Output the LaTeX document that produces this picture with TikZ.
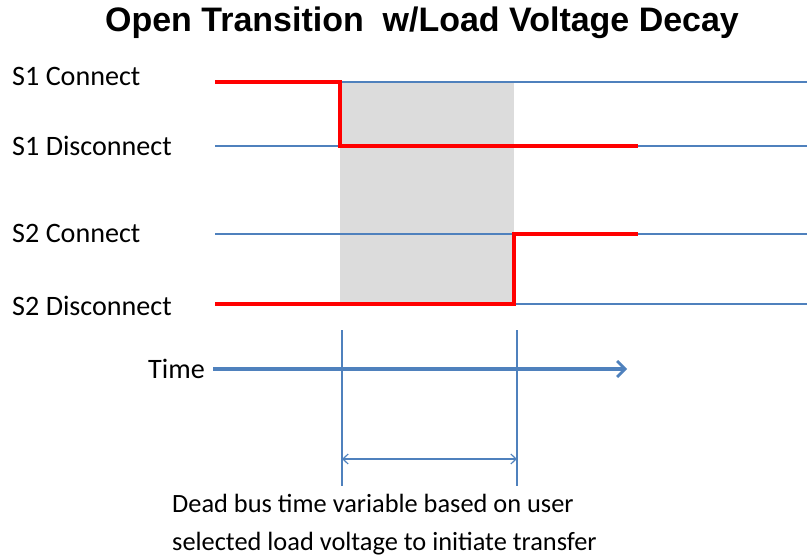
\documentclass[tikz,border=0pt]{standalone}
\usepackage{fontspec}
\setmainfont{Carlito}
\newfontfamily\titlefont{Liberation Sans}
\usetikzlibrary{arrows.meta, positioning}
\definecolor{sigblue}{HTML}{4F81BD}
\definecolor{sigred}{HTML}{FF0000}
\definecolor{deadgray}{HTML}{DCDCDC}

\begin{document}
\begin{tikzpicture}[
      x=0.03cm, y=-0.03cm,
      lbl/.style={anchor=west, inner sep=0pt, font=\fontsize{24}{26}\selectfont},
      level/.style={sigblue, line width=1.2pt},
      state/.style={sigred, line width=3.6pt, line join=miter},
      guide/.style={sigblue, line width=1pt},
      timearr/.style={-{Straight Barb[length=2.4mm, width=4.8mm, line width=2.4pt]}, sigblue, line width=3.6pt},
      dimarr/.style={{Straight Barb[length=1.6mm, width=3mm]}-{Straight Barb[length=1.6mm, width=3mm]}, sigblue, line width=1pt}
    ]
      \useasboundingbox (0,0) rectangle (807,557);
      % title
      \node[font=\titlefont\bfseries\fontsize{29}{32}\selectfont, inner sep=0pt] (title) at (422,23) {Open Transition\ \ w/Load Voltage Decay};
      % row labels
      \node[lbl] (s1c) at (12,76) {S1 Connect};
      \node[lbl] (s1d) at (12,146) {S1 Disconnect};
      \node[lbl] (s2c) at (12,233) {S2 Connect};
      \node[lbl] (s2d) at (12,306) {S2 Disconnect};
      \node[lbl, anchor=east] (time) at (205,369) {Time};
      % key points
      \coordinate (a1) at (215,82);  \coordinate (b1) at (340,82);  \coordinate (e1) at (807,82);
      \coordinate (a2) at (215,146); \coordinate (b2) at (340,146); \coordinate (c2) at (638,146); \coordinate (e2) at (807,146);
      \coordinate (a3) at (215,234); \coordinate (b3) at (514,234); \coordinate (c3) at (638,234); \coordinate (e3) at (807,234);
      \coordinate (a4) at (215,304); \coordinate (b4) at (514,304); \coordinate (e4) at (807,304);
      % dead bus window
      \fill[deadgray] (b1) rectangle (b4);
      % level lines
      \draw[level] (a1) -- (e1);
      \draw[level] (a2) -- (e2);
      \draw[level] (a3) -- (e3);
      \draw[level] (a4) -- (e4);
      % switch states
      \draw[state] (a1) -- (b1) -- (b2) -- (c2);
      \draw[state] (a4) -- (b4) -- (b3) -- (c3);
      % time axis
      \coordinate (t0) at (213,369); \coordinate (t1) at (627,369);
      \draw[timearr] (t0) -- (t1);
      % dead bus span
      \coordinate (g1) at (342,330); \coordinate (g2) at (342,486);
      \coordinate (h1) at (517,330); \coordinate (h2) at (517,486);
      \draw[guide] (g1) -- (g2);
      \draw[guide] (h1) -- (h2);
      \coordinate (d1) at (342,459); \coordinate (d2) at (517,459);
      \draw[dimarr] (d1) -- (d2);
      \node[anchor=north west, align=left, inner sep=0pt, font=\fontsize{22.5}{32}\selectfont] (note) at (172,494)
        {Dead bus time variable based on user\\selected load voltage to initiate transfer};
    \end{tikzpicture}
\end{document}
